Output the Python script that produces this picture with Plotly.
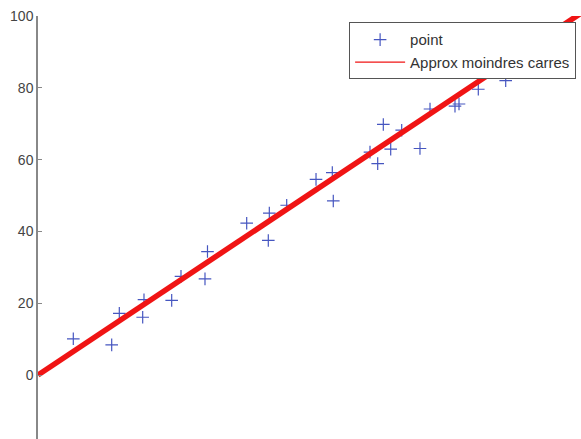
import plotly.graph_objects as go

# Measured samples
x_points = [0.975, 2.036, 2.246, 2.892, 2.928, 3.693, 3.950, 4.613, 4.682, 5.765,
            6.362, 6.390, 6.870, 7.680, 8.130, 8.157, 9.171, 9.384, 9.539, 9.743,
            10.047, 10.552, 10.829, 11.519, 11.630, 12.119, 12.163, 12.920]
y_points = [10.1, 8.4, 17.2, 16.1, 21.0, 20.8, 27.5, 26.8, 34.4, 42.3,
            37.5, 45.1, 47.3, 54.5, 56.4, 48.5, 62.1, 58.9, 69.8, 62.9,
            68.2, 63.1, 74.1, 74.9, 75.5, 84.9, 79.6, 82.0]

# Least-squares line y = slope * x + intercept
fit_slope = 6.72
fit_intercept = 0.0
fit_x = [0.0, 15.2]
fit_y = [fit_slope * v + fit_intercept for v in fit_x]

y_ticks = [0, 20, 40, 60, 80, 100]

fig = go.Figure()

fig.add_trace(go.Scatter(
    x=x_points, y=y_points, mode="markers", name="point",
    marker=dict(symbol="cross-thin", size=9, color="#4656c0",
                line=dict(width=1.2, color="#4656c0")),
))

# Thick fitted line (legend entry drawn by a thin companion trace)
fig.add_trace(go.Scatter(
    x=fit_x, y=fit_y, mode="lines", showlegend=False,
    line=dict(color="#f01414", width=5.5),
))
fig.add_trace(go.Scatter(
    x=[None], y=[None], mode="lines", name="Approx moindres carres",
    line=dict(color="#f01414", width=1.2),
))

fig.update_layout(
    width=581, height=439,
    margin=dict(l=38, r=0, t=16, b=0),
    paper_bgcolor="white", plot_bgcolor="white",
    font=dict(family="Liberation Sans, Arial, sans-serif", size=14, color="#444444"),
    showlegend=True,
    legend=dict(
        x=0.991, y=0.985, xanchor="right", yanchor="top",
        bgcolor="white", bordercolor="#555555", borderwidth=1,
        font=dict(size=15, color="#333333"),
        tracegroupgap=0, itemwidth=50,
    ),
    xaxis=dict(range=[0, 15.0], visible=False),
    yaxis=dict(
        range=[-17.8, 100], tickvals=y_ticks,
        showline=True, linecolor="#888888", linewidth=1.5,
        ticks="inside", ticklen=4, tickcolor="#888888",
        showgrid=False, zeroline=False,
    ),
)

fig.write_html("out.html")
